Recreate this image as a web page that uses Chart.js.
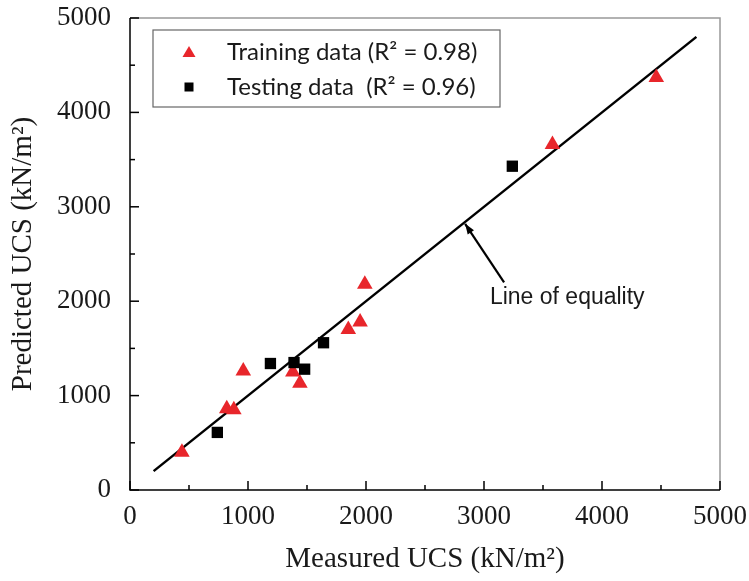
<!DOCTYPE html>
<html>
<head>
<meta charset="utf-8">
<script src="https://cdn.jsdelivr.net/npm/chart.js@4"></script>
<style>
  body { margin: 0; background: #fff; }
  #wrap { width: 749px; height: 581px; }
</style>
</head>
<body>
<div id="wrap"><canvas id="myChart"></canvas></div>
<script>
// measured vs predicted UCS (kN/m2)
const trainMeasured = [440, 820, 880, 960, 1380, 1440, 1850, 1950, 1990, 3580, 4460];
const trainPredicted = [400, 860, 850, 1260, 1250, 1130, 1700, 1780, 2180, 3660, 4370];
const testMeasured = [740, 1190, 1390, 1480, 1640, 3240];
const testPredicted = [610, 1340, 1350, 1280, 1560, 3430];
const equalityLine = [200, 4800];

const legendLabels = ["Training data (R\u00B2 = 0.98)", "Testing data  (R\u00B2 = 0.96)"];
const noteText = "Line of equality";
const noteArrow = { from: [3170, 2200], to: [2840, 2820] };
const noteAt = [3050, 2040];

const serif = "'Liberation Serif', 'Times New Roman', serif";
const sans = "Lato, 'Liberation Sans', sans-serif";
const arial = "'Liberation Sans', Arial, sans-serif";

function toXY(xs, ys) {
  return xs.map((x, i) => ({ x: x, y: ys[i] }));
}

const data = {
  datasets: [
    {
      type: "line",
      label: "equality",
      data: toXY(equalityLine, equalityLine),
      borderColor: "#000",
      borderWidth: 2.5,
      pointRadius: 0,
      order: 2,
    },
    {
      type: "scatter",
      label: legendLabels[0],
      data: toXY(trainMeasured, trainPredicted),
      pointStyle: "triangle",
      pointRadius: 9,
      backgroundColor: "#e8262b",
      borderColor: "#e8262b",
      borderWidth: 0,
      order: 1,
    },
    {
      type: "scatter",
      label: legendLabels[1],
      data: toXY(testMeasured, testPredicted),
      pointStyle: "rect",
      pointRadius: 8,
      backgroundColor: "#000",
      borderColor: "#000",
      borderWidth: 0,
      order: 0,
    },
  ],
};

// inward ticks, frame, legend box and the arrow note
const extras = {
  id: "extras",
  afterDraw(chart) {
    const ctx = chart.ctx;
    const a = chart.chartArea;
    const xs = chart.scales.x;
    const ys = chart.scales.y;
    ctx.save();

    // light frame on top and right
    ctx.strokeStyle = "#999";
    ctx.lineWidth = 1.5;
    ctx.beginPath();
    ctx.moveTo(a.left, a.top);
    ctx.lineTo(a.right, a.top);
    ctx.lineTo(a.right, a.bottom);
    ctx.stroke();

    // axis lines and ticks
    ctx.strokeStyle = "#000";
    ctx.lineWidth = 1.5;
    ctx.beginPath();
    ctx.moveTo(a.left, a.top);
    ctx.lineTo(a.left, a.bottom);
    ctx.lineTo(a.right, a.bottom);
    ctx.stroke();
    xs.ticks.forEach((t) => {
      const px = xs.getPixelForValue(t.value);
      const len = t.value % 1000 === 0 ? 9 : 5;
      ctx.beginPath();
      ctx.moveTo(px, a.bottom);
      ctx.lineTo(px, a.bottom - len);
      ctx.stroke();
    });
    ys.ticks.forEach((t) => {
      const py = ys.getPixelForValue(t.value);
      const len = t.value % 1000 === 0 ? 9 : 5;
      ctx.beginPath();
      ctx.moveTo(a.left, py);
      ctx.lineTo(a.left + len, py);
      ctx.stroke();
    });

    // legend box
    const bx = a.left + 23, by = a.top + 12, bw = 347, bh = 77;
    ctx.fillStyle = "#fff";
    ctx.fillRect(bx, by, bw, bh);
    ctx.strokeStyle = "#666";
    ctx.lineWidth = 1.2;
    ctx.strokeRect(bx, by, bw, bh);
    ctx.font = "24px " + sans;
    ctx.textBaseline = "middle";
    ctx.textAlign = "left";
    [1, 2].forEach((di, i) => {
      const ds = chart.data.datasets[di];
      const cy = by + 22 + i * 35;
      const cx = bx + 36;
      ctx.fillStyle = ds.backgroundColor;
      ctx.beginPath();
      if (ds.pointStyle === "triangle") {
        ctx.moveTo(cx, cy - 6);
        ctx.lineTo(cx + 6.5, cy + 5);
        ctx.lineTo(cx - 6.5, cy + 5);
        ctx.closePath();
        ctx.fill();
      } else {
        ctx.fillRect(cx - 4.5, cy - 4.5, 9, 9);
      }
      ctx.fillStyle = "#1a1a1a";
      ctx.fillText(ds.label, bx + 74, cy);
    });

    // arrow note
    const x1 = xs.getPixelForValue(noteArrow.from[0]);
    const y1 = ys.getPixelForValue(noteArrow.from[1]);
    const x2 = xs.getPixelForValue(noteArrow.to[0]);
    const y2 = ys.getPixelForValue(noteArrow.to[1]);
    ctx.strokeStyle = "#000";
    ctx.fillStyle = "#000";
    ctx.lineWidth = 2.2;
    ctx.beginPath();
    ctx.moveTo(x1, y1);
    ctx.lineTo(x2, y2);
    ctx.stroke();
    const ang = Math.atan2(y2 - y1, x2 - x1);
    ctx.beginPath();
    ctx.moveTo(x2, y2);
    ctx.lineTo(x2 - 11 * Math.cos(ang - 0.35), y2 - 11 * Math.sin(ang - 0.35));
    ctx.lineTo(x2 - 11 * Math.cos(ang + 0.35), y2 - 11 * Math.sin(ang + 0.35));
    ctx.closePath();
    ctx.fill();
    ctx.font = "23px " + arial;
    ctx.fillStyle = "#1a1a1a";
    ctx.fillText(noteText, xs.getPixelForValue(noteAt[0]), ys.getPixelForValue(noteAt[1]));

    ctx.restore();
  },
};

const config = {
  data: data,
  options: {
    responsive: true,
    maintainAspectRatio: false,
    animation: false,
    layout: {
      padding: { top: 18, right: 29, left: 0, bottom: 0 },
    },
    scales: {
      x: {
        type: "linear",
        min: 0,
        max: 5000,
        afterFit: (s) => {
          s.height = 91;
          s.paddingLeft = 0;
          s.paddingRight = 0;
        },
        grid: { display: false },
        border: { display: false },
        ticks: {
          stepSize: 500,
          color: "#1a1a1a",
          padding: 3,
          maxRotation: 0,
          autoSkip: false,
          font: { size: 27, family: serif },
          callback: (v) => (v % 1000 === 0 ? v : ""),
        },
        title: {
          display: true,
          text: "Measured UCS (kN/m\u00B2)",
          color: "#1a1a1a",
          padding: { top: 0, bottom: 4 },
          font: { size: 29, family: serif },
        },
      },
      y: {
        type: "linear",
        min: 0,
        max: 5000,
        afterFit: (s) => {
          s.width = 130;
          s.paddingTop = 0;
          s.paddingBottom = 0;
        },
        grid: { display: false },
        border: { display: false },
        ticks: {
          stepSize: 500,
          color: "#1a1a1a",
          padding: 11,
          autoSkip: false,
          font: { size: 27, family: serif },
          callback: (v) => (v % 1000 === 0 ? v : ""),
        },
        title: {
          display: true,
          text: "Predicted UCS (kN/m\u00B2)",
          color: "#1a1a1a",
          padding: { top: 6, bottom: 0 },
          font: { size: 29, family: serif },
        },
      },
    },
    plugins: {
      legend: { display: false },
      tooltip: { enabled: false },
    },
  },
  plugins: [extras],
};

const myChart = new Chart(document.getElementById("myChart"), config);
</script>
</body>
</html>
